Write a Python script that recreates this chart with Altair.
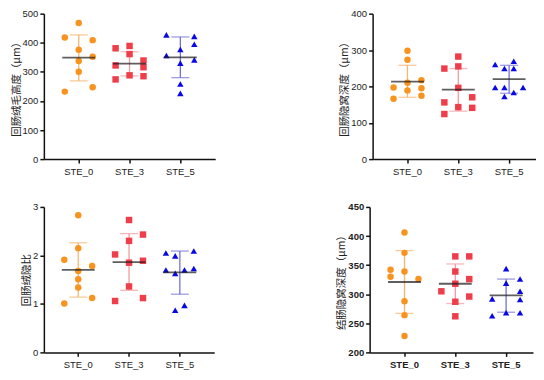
import altair as alt
import pandas as pd

groups = ["STE_0", "STE_3", "STE_5"]

# Panel 1: 回肠绒毛高度
p1_vals = {
    "STE_0": [468, 418, 409, 376, 352, 337, 300, 247, 232],
    "STE_3": [389, 381, 361, 339, 322, 316, 288, 285, 274],
    "STE_5": [427, 422, 395, 377, 356, 341, 330, 258, 226],
}
p1_lanes = {
    "STE_0": [0, -1, 1, 0, 1, 0, 0, 1, -1],
    "STE_3": [0, -1, 0, 1, -1, 1, 0, 1, -1],
    "STE_5": [-1, 1, 1, 0, -1, 1, 0, 0, 0],
}
p1_mean = [349, 328, 350]
p1_upper = [427, 369, 420]
p1_lower = [269, 286, 280]

# Panel 2: 回肠隐窝深度
p2_vals = {
    "STE_0": [298, 273, 217, 210, 197, 195, 189, 174, 166],
    "STE_3": [282, 255, 249, 196, 170, 156, 143, 141, 124],
    "STE_5": [269, 260, 249, 249, 197, 197, 197, 183, 172],
}
p2_lanes = {
    "STE_0": [0, 0, 1, 0, -1, 1, 0, 1, -1],
    "STE_3": [0, 0, -1, 0, 1, -1, 0, 1, -1],
    "STE_5": [1/3, -1, -1/3, 1/3, -1, -1/3, 1, 1/3, -1/3],
}
p2_mean = [213, 191, 220]
p2_upper = [258, 249, 258]
p2_lower = [170, 132, 181]

# Panel 3: 回肠绒隐比
p3_vals = {
    "STE_0": [2.83, 2.15, 1.91, 1.78, 1.68, 1.51, 1.34, 1.12, 1.01],
    "STE_3": [2.73, 2.43, 2.30, 2.02, 1.89, 1.85, 1.36, 1.12, 1.06],
    "STE_5": [2.09, 2.05, 1.99, 1.73, 1.70, 1.70, 1.63, 0.97, 0.87],
}
p3_lanes = {
    "STE_0": [0, 0, -1, 1, 0, 0, 0, 1, -1],
    "STE_3": [0, 1, 0, -1, 1, 0, 0, 1, -1],
    "STE_5": [1, -1, -1/3, 1, -1, 1/3, -1/3, 1/3, -1/3],
}
p3_mean = [1.70, 1.86, 1.65]
p3_upper = [2.26, 2.45, 2.09]
p3_lower = [1.14, 1.28, 1.20]

# Panel 4: 结肠隐窝深度
p4_vals = {
    "STE_0": [406, 371, 342, 339, 330, 326, 288, 264, 228],
    "STE_3": [365, 365, 339, 326, 318, 305, 296, 287, 262],
    "STE_5": [344, 326, 319, 305, 292, 291, 268, 268, 263],
}
p4_lanes = {
    "STE_0": [0, 0, -1, 0, -1, 1, 0, 0, 0],
    "STE_3": [0, 1, 0, 1, 0, -1, 1, 0, 0],
    "STE_5": [0, 1, 0, 1, -1, 1, 0, 1, -1],
}
p4_mean = [321, 318, 298]
p4_upper = [375, 352, 326]
p4_lower = [267, 284, 269]

point_colors = ["#F7931E", "#EF3D4A", "#0808E6"]
bar_colors = ["#F5B56E", "#F29AA0", "#7272D6"]
shapes = ["circle", "square", "triangle-up"]

LABEL_FONT = "Liberation Sans"
TITLE_FONT = "Noto Sans CJK SC"


def panel(title, vals, lanes, mean, upper, lower, domain, step, width, align, bold=False):
    rows = []
    for g in groups:
        for v, l in zip(vals[g], lanes[g]):
            rows.append({"group": g, "value": v, "lane": l})
    pts = pd.DataFrame(rows)
    summ = pd.DataFrame({"group": groups, "mean": mean, "upper": upper, "lower": lower})

    ticks = []
    t = domain[0]
    while t <= domain[1] + 1e-9:
        ticks.append(round(t, 6))
        t += step

    weight = "bold" if bold else "normal"
    xscale = alt.Scale(domain=groups, paddingInner=0, paddingOuter=(width - 153) / 102, align=align)
    xenc = alt.X("group:N", scale=xscale, sort=groups,
                 axis=alt.Axis(title=None, labelAngle=0, labelFont=LABEL_FONT, labelFontSize=9.5,
                               labelFontWeight=weight, labelColor="#222", tickSize=4,
                               labelPadding=3))
    yscale = alt.Scale(domain=domain, nice=False, zero=False)
    yaxis = alt.Axis(title=title, values=ticks, labelOverlap=False, labelFont=LABEL_FONT,
                     labelFontSize=9.5, labelFontWeight=weight, labelColor="#222",
                     titleFont=TITLE_FONT, titleFontSize=10.5, titleFontWeight="normal",
                     titleColor="#222", tickSize=4, labelPadding=2, titlePadding=1, grid=False)
    color_scale = alt.Scale(domain=groups, range=bar_colors)
    pcolor_scale = alt.Scale(domain=groups, range=point_colors)

    def Y(field):
        return alt.Y(field, scale=yscale, axis=yaxis)

    bars = alt.layer(
        alt.Chart(summ).mark_rule(strokeWidth=1.3).encode(
            x=xenc,
            y=Y("lower:Q"),
            y2="upper:Q",
            color=alt.Color("group:N", scale=color_scale, legend=None),
        ),
        alt.Chart(summ).mark_tick(size=18, thickness=1.3).encode(
            x=xenc, y=Y("upper:Q"),
            color=alt.Color("group:N", scale=color_scale, legend=None),
        ),
        alt.Chart(summ).mark_tick(size=18, thickness=1.3).encode(
            x=xenc, y=Y("lower:Q"),
            color=alt.Color("group:N", scale=color_scale, legend=None),
        ),
    )
    points = alt.Chart(pts).mark_point(filled=True, opacity=1, size=42).encode(
        x=xenc,
        xOffset=alt.XOffset("lane:Q", scale=alt.Scale(domain=[-1, 1], range=[11.5, 39.5])),
        y=Y("value:Q"),
        color=alt.Color("group:N", scale=pcolor_scale, legend=None),
        shape=alt.Shape("group:N", scale=alt.Scale(domain=groups, range=shapes), legend=None),
    )
    mean_line = alt.Chart(summ).mark_tick(size=33, thickness=1.8, color="#1a1a1a").encode(
        x=xenc, y=Y("mean:Q"),
    )
    return (
        alt.layer(bars, points, mean_line)
        .resolve_scale(color="independent")
        .properties(width=width, height=146)
    )


c1 = panel("回肠绒毛高度（μm）", p1_vals, p1_lanes, p1_mean, p1_upper, p1_lower, [0, 500], 100, 172, 0.5)
c2 = panel("回肠隐窝深度（μm）", p2_vals, p2_lanes, p2_mean, p2_upper, p2_lower, [0, 400], 100, 164, 0.864)
c3 = panel("回肠绒隐比", p3_vals, p3_lanes, p3_mean, p3_upper, p3_lower, [0, 3], 1, 171, 0.5)
c4 = panel("结肠隐窝深度（μm）", p4_vals, p4_lanes, p4_mean, p4_upper, p4_lower, [200, 450], 50, 164, 0.864, bold=True)

chart = alt.vconcat(
    alt.hconcat(c1, c2, spacing=125),
    alt.hconcat(c3, c4, spacing=123),
    spacing=26,
).properties(
    padding={"left": 3, "top": 0, "right": 0, "bottom": 0}
).configure_view(stroke=None).configure_axis(
    domainColor="#111", domainWidth=1.5, tickColor="#111", tickWidth=1.5
)

chart.save("out.html", embed_options={"renderer": "svg", "actions": False})
